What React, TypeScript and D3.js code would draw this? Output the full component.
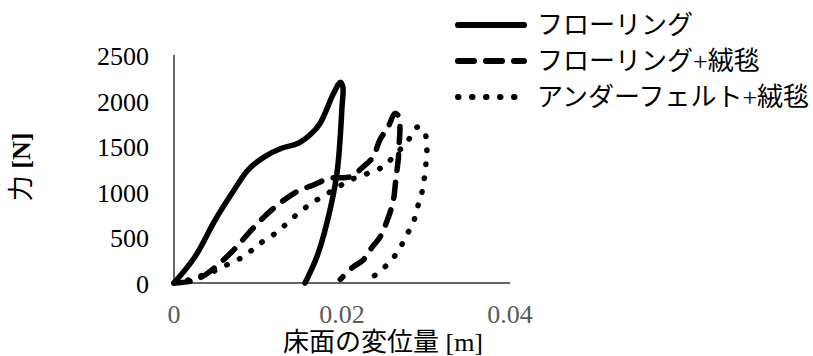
import React from "react";
import * as d3 from "d3";

// 変位 [m] と 力 [N]
const flooringDisp = [0, 0.0025, 0.0049, 0.0069, 0.0088, 0.0108, 0.0128, 0.0148, 0.0164, 0.0174, 0.019, 0.0198, 0.0201, 0.02, 0.0194, 0.0182, 0.017, 0.0156];
const flooringForce = [0, 288, 691, 983, 1239, 1385, 1477, 1532, 1641, 1751, 2080, 2200, 2150, 1930, 1206, 658, 285, 0];

const carpetDisp = [0, 0.002, 0.0037, 0.0069, 0.0094, 0.0116, 0.0146, 0.0166, 0.0186, 0.021, 0.0225, 0.0237, 0.0245, 0.0255, 0.0263, 0.0268, 0.0269, 0.0268, 0.0267, 0.0264, 0.0261, 0.0254, 0.0245, 0.0236, 0.0225, 0.0213, 0.0198];
const carpetForce = [0, 20, 88, 343, 600, 800, 1001, 1075, 1150, 1165, 1272, 1382, 1568, 1711, 1860, 1820, 1700, 1520, 1360, 1130, 900, 690, 500, 395, 250, 175, 40];

const feltDisp = [0, 0.002, 0.0035, 0.0051, 0.0067, 0.0082, 0.0096, 0.0108, 0.0123, 0.0136, 0.015, 0.0164, 0.018, 0.0195, 0.021, 0.0225, 0.0242, 0.0255, 0.0279, 0.029, 0.0298, 0.0301, 0.03, 0.0298, 0.0295, 0.029, 0.0285, 0.0277, 0.0269, 0.0259, 0.0247, 0.0235];
const feltForce = [0, 40, 88, 143, 219, 285, 384, 471, 559, 669, 779, 877, 965, 1053, 1129, 1184, 1239, 1327, 1568, 1710, 1660, 1480, 1316, 1151, 987, 833, 669, 526, 384, 252, 143, 55];

const seriesNames = ["フローリング", "フローリング+絨毯", "アンダーフェルト+絨毯"];
const xTicks = [0, 0.02, 0.04];
const yTicks = [0, 500, 1000, 1500, 2000, 2500];

const font = "'Liberation Serif', 'Noto Sans CJK JP', serif";

export default function App() {
  const width = 813;
  const height = 356;

  const x = d3.scaleLinear().domain([0, 0.04]).range([174, 510]);
  const y = d3.scaleLinear().domain([0, 2500]).range([283, 55]);

  const line = d3
    .line<[number, number]>()
    .x((d) => x(d[0]))
    .y((d) => y(d[1]))
    .curve(d3.curveCatmullRom.alpha(0.5));

  const zip = (a: number[], b: number[]) => a.map((v, i) => [v, b[i]] as [number, number]);

  const series = [
    { pts: zip(flooringDisp, flooringForce), dash: "none" },
    { pts: zip(carpetDisp, carpetForce), dash: "16,12" },
    { pts: zip(feltDisp, feltForce), dash: "0.5,13.5" },
  ];

  const legendY = [25, 61, 97];
  const txt = { fontFamily: font };

  return (
    <svg
      width={width}
      height={height}
      style={{ position: "absolute", left: 0, top: 0, background: "#fff", fontFamily: font }}
    >
      {/* axes */}
      <line x1={x(0)} x2={x(0)} y1={y(2500)} y2={y(0)} stroke="#333" strokeWidth={1.5} />
      <line x1={x(0)} x2={x(0.04)} y1={y(0)} y2={y(0)} stroke="#333" strokeWidth={1.5} />

      {yTicks.map((t) => (
        <text key={t} x={149} y={y(t) + 10} textAnchor="end" fontSize={26} fill="#000" style={txt}>
          {t}
        </text>
      ))}
      {xTicks.map((t) => (
        <text key={t} x={x(t)} y={323} textAnchor="middle" fontSize={26} fill="#595959" style={txt}>
          {t}
        </text>
      ))}

      {/* curves */}
      {series.map((s, i) => (
        <path
          key={i}
          d={line(s.pts) ?? ""}
          fill="none"
          stroke="#000"
          strokeWidth={5.5}
          strokeDasharray={s.dash}
          strokeLinecap="round"
          strokeLinejoin="round"
        />
      ))}

      {/* axis titles */}
      <text x={383} y={351} textAnchor="middle" fontSize={26} fill="#000" style={txt}>
        床面の変位量 [m]
      </text>
      <text
        transform="translate(30,167) rotate(-90)"
        textAnchor="middle"
        fontSize={26}
        fill="#000"
        style={txt}
      >
        力 <tspan fontWeight="bold">[N]</tspan>
      </text>

      {/* legend */}
      {seriesNames.map((name, i) => (
        <g key={name}>
          <line
            x1={458}
            x2={524}
            y1={legendY[i]}
            y2={legendY[i]}
            stroke="#000"
            strokeWidth={6}
            strokeLinecap="round"
            strokeDasharray={series[i].dash}
          />
          <text x={537} y={legendY[i] + 9} fontSize={26} fill="#000" style={txt}>
            {name}
          </text>
        </g>
      ))}
    </svg>
  );
}
